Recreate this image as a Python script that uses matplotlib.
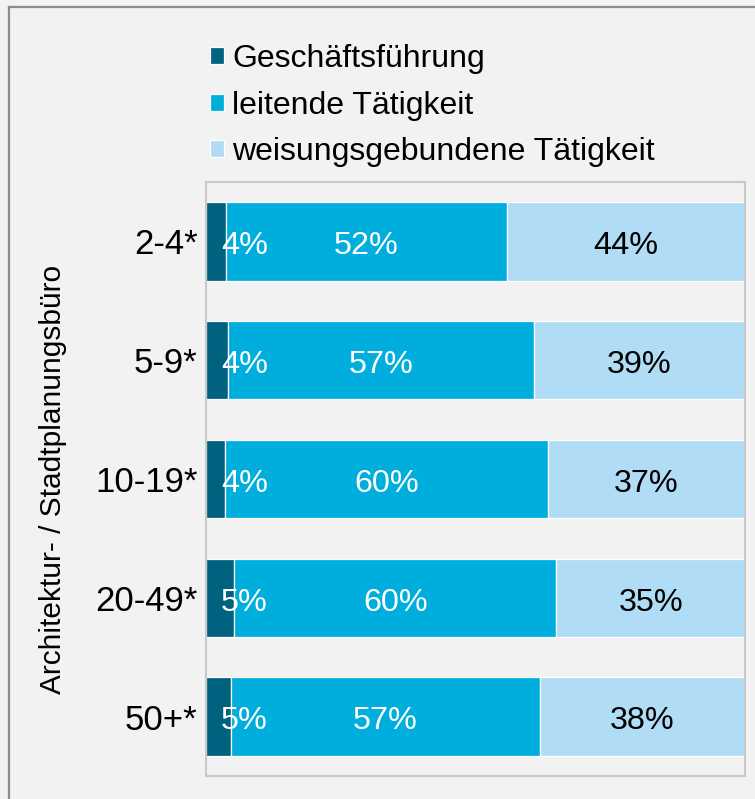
import matplotlib
matplotlib.use("Agg")
import matplotlib.pyplot as plt
from matplotlib.lines import Line2D
import numpy as np

plt.rcParams['font.family'] = ['Liberation Sans', 'DejaVu Sans']

categories = ["2-4*", "5-9*", "10-19*", "20-49*", "50+*"]
geschaeftsfuehrung = [3.7, 4.1, 3.6, 5.2, 4.6]
leitende = [52.2, 56.7, 59.8, 59.8, 57.4]
weisungsgebunden = [44.1, 39.2, 36.6, 35.0, 38.0]
series_names = ["Geschäftsführung", "leitende Tätigkeit", "weisungsgebundene Tätigkeit"]
colors = ["#00627f", "#00aedd", "#b1dcf5"]
text_colors = ["white", "white", "black"]
ylabel = "Architektur- / Stadtplanungsbüro"

W, H = 755, 799
fig = plt.figure(figsize=(W / 100, H / 100), dpi=100)
fig.patch.set_facecolor("#f2f2f2")

# outer frame (left and top edges visible)
fig.add_artist(Line2D([8.5 / W, 8.5 / W], [0, 1 - 6.5 / H], transform=fig.transFigure,
                      color="#8c8c8c", lw=1.6))
fig.add_artist(Line2D([8.5 / W, 1], [1 - 6.5 / H, 1 - 6.5 / H], transform=fig.transFigure,
                      color="#8c8c8c", lw=1.6))

ax = fig.add_axes([206 / W, 1 - 776 / H, 539 / W, 594 / H])
ax.set_facecolor("#f2f2f2")

y = np.arange(len(categories))
series = [geschaeftsfuehrung, leitende, weisungsgebunden]
left = np.zeros(len(categories))
handles = []
for k, (vals, name, col) in enumerate(zip(series, series_names, colors)):
    vals = np.array(vals)
    b = ax.barh(y, vals, left=left, height=0.66, color=col, edgecolor="white",
                linewidth=0.9, label=name)
    handles.append(b)
    for i, v in enumerate(vals):
        if k == 0:
            xy, dx = (0, y[i]), 27.5
        else:
            xy, dx = (left[i] + v / 2, y[i]), 0
        ax.annotate(f"{round(v):d}%", xy=xy, xytext=(dx, -3.5),
                    textcoords="offset points", ha="center", va="center",
                    fontsize=23.3, color=text_colors[k])
    left = left + vals

ax.set_xlim(0, left.max())
ax.set_ylim(len(categories) - 0.5, -0.5)
ax.set_yticks(y)
ax.set_yticklabels(categories, fontsize=25)
ax.tick_params(axis="y", length=0, pad=6)
ax.set_xticks([])
for s in ax.spines.values():
    s.set_color("#c8c8c8")
    s.set_linewidth(1.5)

ax.set_ylabel(ylabel, fontsize=21.5)
ax.yaxis.set_label_coords(-0.258, 0.5)

leg = fig.legend(handles=handles, labels=series_names, loc="upper left",
                 bbox_to_anchor=(210 / W, 1 - 44 / H), frameon=False,
                 fontsize=23, handlelength=0.45, handleheight=0.45,
                 handletextpad=0.25, labelspacing=0.52, borderaxespad=0,
                 borderpad=0)

fig.savefig("out.png", dpi=100, facecolor=fig.get_facecolor())
